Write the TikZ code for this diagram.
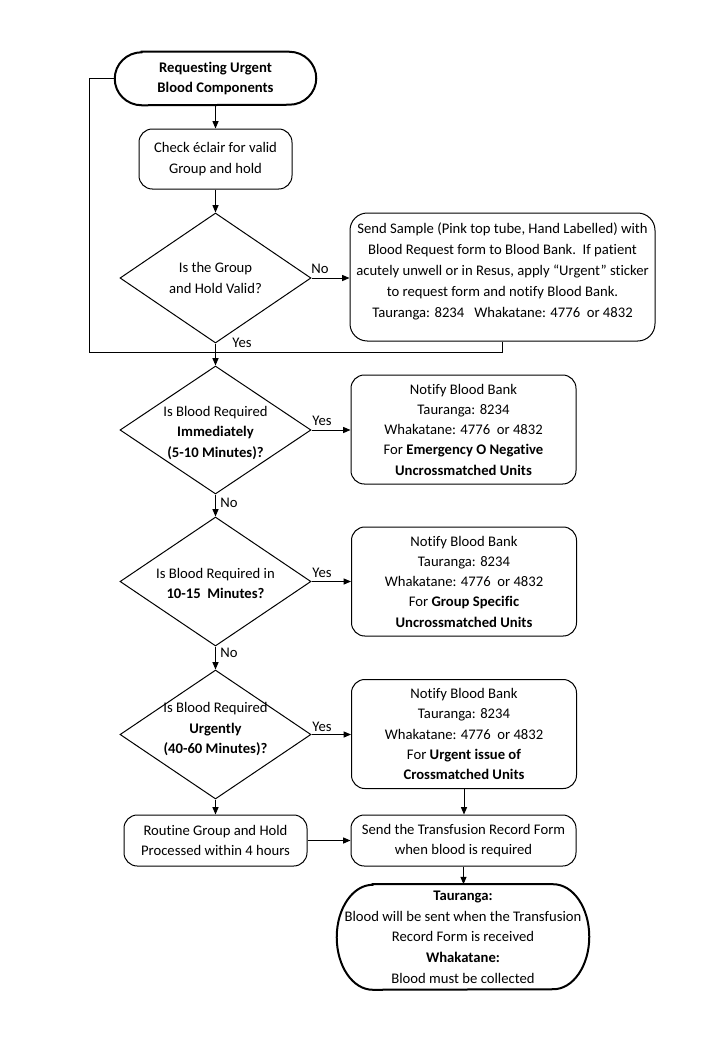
\documentclass[tikz,border=0pt]{standalone}
\usepackage{fontspec}
\setmainfont{Carlito}[Ligatures=NoCommon]
\usetikzlibrary{shapes.geometric,arrows.meta}
\begin{document}
\begin{tikzpicture}[x=0.75pt,y=-0.75pt,
 every node/.style={font=\fontsize{11pt}{15.2pt}\selectfont, inner sep=0pt, align=center},
 line/.style={line width=0.75pt},
 arr/.style={line, -{Triangle[length=5.5pt,width=4.5pt]}},
 box/.style={draw, line width=0.75pt, rounded corners=10pt},
 dia/.style={draw, diamond, line width=0.75pt, minimum width=143.25pt, minimum height=97.5pt},
 term/.style={line width=1.5pt},
 lbl/.style={anchor=base}
]
\fill[white] (0,0) rectangle (720,1040);
\useasboundingbox (0,0) rectangle (720,1040);

% start terminal
\node[minimum width=150.75pt, minimum height=39.75pt] (start) at (215.5,78.5) {\textbf{Requesting Urgent}\\\textbf{Blood Components}};
\draw[term] ([xshift=20.25pt]start.north west) -- ([xshift=-20.25pt]start.north east)
  arc[start angle=90,end angle=-90,x radius=20.25pt,y radius=19.875pt]
  -- ([xshift=20.25pt]start.south west)
  arc[start angle=270,end angle=90,x radius=20.25pt,y radius=19.875pt] -- cycle;

\node[box, minimum width=114.75pt, minimum height=45pt] (check) at (215.5,159) {Check éclair for valid\\Group and hold};

\node[dia, label={center:Is the Group\\and Hold Valid?}] (d1) at (215.5,278) {};

\node[box, rounded corners=13pt, minimum width=228.75pt, minimum height=96pt] (sample) at (502.5,277) {};
\node[font=\fontsize{11pt}{15.75pt}\selectfont] (sampletext) at (502.5,271) {Send Sample (Pink top tube, Hand Labelled) with\\Blood Request form to Blood Bank.\ \ If patient\\acutely unwell or in Resus, apply “Urgent” sticker\\to request form and notify Blood Bank.\\Tauranga: 8234\ \ \ Whakatane: 4776\ \ or 4832};

\node[dia, minimum height=96pt, label={[yshift=-2.25pt]center:Is Blood Required\\\textbf{Immediately}\\\textbf{(5-10 Minutes)?}}] (d2) at (215.5,430) {};
\node[box, minimum width=168.75pt, minimum height=81.75pt] (b2) at (463.5,429.5) {Notify Blood Bank\\Tauranga: 8234\\Whakatane: 4776\ \ or 4832\\For \textbf{Emergency O Negative}\\\textbf{Uncrossmatched Units}};

\node[dia, minimum height=96.75pt, label={[yshift=-1.5pt]center:Is Blood Required in\\\textbf{10-15\ \ Minutes?}}] (d3) at (215.5,581.5) {};
\node[box, minimum width=168.75pt, minimum height=81.75pt] (b3) at (464,581.5) {Notify Blood Bank\\Tauranga: 8234\\Whakatane: 4776\ \ or 4832\\For \textbf{Group Specific}\\\textbf{Uncrossmatched Units}};

\node[dia, minimum height=96.75pt, label={[yshift=4pt]center:Is Blood Required\\\textbf{Urgently}\\\textbf{(40-60 Minutes)?}}] (d4) at (215.5,734.5) {};
\node[box, minimum width=168.75pt, minimum height=81.75pt] (b4) at (464,734) {Notify Blood Bank\\Tauranga: 8234\\Whakatane: 4776\ \ or 4832\\For \textbf{Urgent issue of}\\\textbf{Crossmatched Units}};

\node[box, minimum width=137.25pt, minimum height=38.25pt] (routine) at (215.5,840.5) {Routine Group and Hold\\Processed within 4 hours};
\node[box, minimum width=168.75pt, minimum height=38.25pt] (trf) at (463.5,840.5) {Send the Transfusion Record Form\\when blood is required};

% end terminal
\node[minimum width=189pt, minimum height=78.75pt, font=\fontsize{11pt}{15.5pt}\selectfont] (end) at (463,937) {\textbf{Tauranga:}\\Blood will be sent when the Transfusion\\Record Form is received\\\textbf{Whakatane:}\\Blood must be collected};
\draw[term] ([xshift=27pt]end.north west) -- ([xshift=-27pt]end.north east)
  arc[start angle=90,end angle=-90,x radius=27pt,y radius=39.375pt]
  -- ([xshift=27pt]end.south west)
  arc[start angle=270,end angle=90,x radius=27pt,y radius=39.375pt] -- cycle;

% connectors
\draw[arr] (start.south) -- (check.north);
\draw[arr] (check.south) -- (d1.north);
\draw[arr] (d1.east) -- (d1.east -| sample.west);
\draw[arr] (d1.south) -- (d2.north);
\draw[arr] (d2.east) -- (d2.east -| b2.west);
\draw[arr] (d2.south) -- (d3.north);
\draw[arr] (d3.east) -- (d3.east -| b3.west);
\draw[arr] (d3.south) -- (d4.north);
\draw[arr] (d4.east) -- (d4.east -| b4.west);
\draw[arr] (d4.south) -- (routine.north);
\draw[arr] (b4.south) -- (b4.south |- trf.north);
\draw[arr] (routine.east) -- (trf.west);
\draw[arr] (trf.south) -- (trf.south |- end.north);
\coordinate (loopL) at (89,352);
\draw[line] (sample.south) |- (loopL) |- (start.west);

% labels
\node[lbl] (no1) at (320,273) {No};
\node[lbl] (yes1) at (242,347) {Yes};
\node[lbl] (yes2) at (322,425) {Yes};
\node[lbl] (no2) at (229,507) {No};
\node[lbl] (yes3) at (322,577) {Yes};
\node[lbl] (no3) at (229,657) {No};
\node[lbl] (yes4) at (322,731) {Yes};
\end{tikzpicture}
\end{document}
